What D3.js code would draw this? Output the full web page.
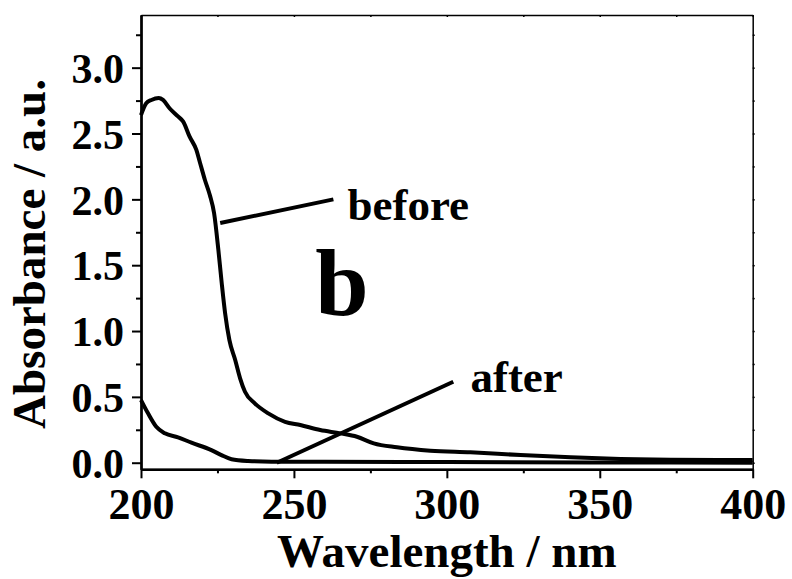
<!DOCTYPE html>
<html>
  <head>
    <meta charset="utf-8" />
    <title>Absorbance before / after</title>
    <script src="https://d3js.org/d3.v7.min.js"></script>
    <style>
      body {
        margin: 0;
        background: white;
      }
      text {
        font-family: "Liberation Serif", "Times New Roman", serif;
        font-weight: bold;
        fill: black;
      }
    </style>
  </head>
  <body>

    <svg id="chart"></svg>

    <script>

      // spectra (nm, a.u.)
      var beforeX = [200, 201.7, 203.4, 205.8, 207.2, 209.4, 212.1, 213.8, 215.9, 218.1, 219.2, 220.9, 222.5, 223.9, 225.3, 226.4, 227.5, 228.9, 230.8, 232.4, 234.0, 237.2, 241.6, 247.1, 252.1, 258.6, 265.2, 270.6, 276.1, 283.7, 294.6, 307.7, 324.1, 340.5, 356.8, 373.2, 400];
      var beforeY = [2.64, 2.73, 2.755, 2.77, 2.755, 2.69, 2.63, 2.59, 2.476, 2.375, 2.286, 2.147, 2.033, 1.894, 1.615, 1.362, 1.135, 0.932, 0.78, 0.641, 0.539, 0.451, 0.375, 0.311, 0.286, 0.248, 0.223, 0.197, 0.147, 0.117, 0.091, 0.079, 0.058, 0.041, 0.028, 0.022, 0.02];
      var afterX = [200, 202.3, 205, 207.8, 212.1, 216.5, 223, 226.3, 229.6, 235, 242.7, 260, 300, 350, 400];
      var afterY = [0.476, 0.375, 0.273, 0.223, 0.193, 0.152, 0.096, 0.058, 0.026, 0.013, 0.008, 0.008, 0.005, 0.002, 0.0];

      var xMajor = [200, 250, 300, 350, 400];
      var xMinor = [225, 275, 325, 375];
      var yMajor = [0, 0.5, 1.0, 1.5, 2.0, 2.5, 3.0];
      var yMinor = [0.25, 0.75, 1.25, 1.75, 2.25, 2.75, 3.25];

      // annotations: leader lines and labels (data coords)
      var beforeLeader = [[225.9, 1.82], [262.9, 2.0]];
      var afterLeader = [[244.4, 0.0], [302.1, 0.615]];
      var labels = [
        { text: "before", x: 267.5, y: 1.843, size: 45 },
        { text: "after", x: 307.7, y: 0.54, size: 45 },
        { text: "b", x: 257, y: 1.12, size: 96 }
      ];

      var width = 792;
      var height = 579;
      var margin = { top: 15, right: 39.3, bottom: 109.7, left: 141 };

      var svg = d3.select("#chart")
        .attr("width", width)
        .attr("height", height);

      var x = d3.scaleLinear()
        .domain([200, 400])
        .range([margin.left, width - margin.right]);

      var y = d3.scaleLinear()
        .domain([-0.05, 3.4])
        .range([height - margin.bottom, margin.top]);

      // frame: top and right (thin, tiny ticks)
      svg.append("g")
        .attr("transform", "translate(0," + y(3.4) + ")")
        .call(d3.axisBottom(x).tickValues(xMajor.concat(xMinor)).tickSize(2).tickSizeOuter(0).tickFormat(""))
        .call(function(g) { g.selectAll("path, line").attr("stroke-width", 1.5); });

      svg.append("g")
        .attr("transform", "translate(" + x(400) + ",0)")
        .call(d3.axisRight(y).tickValues(yMajor.concat(yMinor)).tickSize(2).tickSizeOuter(0).tickFormat(""))
        .call(function(g) { g.selectAll("path, line").attr("stroke-width", 1.5); });

      // left axis
      svg.append("g")
        .attr("transform", "translate(" + x(200) + ",0)")
        .call(d3.axisLeft(y).tickValues(yMinor).tickSize(5).tickSizeOuter(0).tickFormat(""))
        .call(function(g) { g.selectAll("path, line").attr("stroke-width", 2); });

      var yAxis = svg.append("g")
        .attr("transform", "translate(" + x(200) + ",0)")
        .call(d3.axisLeft(y).tickValues(yMajor).tickSize(9).tickPadding(8).tickSizeOuter(0).tickFormat(d3.format(".1f")));
      yAxis.selectAll("path").attr("stroke-width", 2.5);
      yAxis.selectAll("line").attr("stroke-width", 2);
      yAxis.selectAll("text")
        .attr("dy", "0.35em")
        .style("font-size", "42px")
        .style("font-family", "'Liberation Serif', serif")
        .style("font-weight", "bold");

      // bottom axis
      svg.append("g")
        .attr("transform", "translate(0," + y(-0.05) + ")")
        .call(d3.axisBottom(x).tickValues(xMinor).tickSize(4).tickSizeOuter(0).tickFormat(""))
        .call(function(g) { g.selectAll("path, line").attr("stroke-width", 2); });

      var xAxis = svg.append("g")
        .attr("transform", "translate(0," + y(-0.05) + ")")
        .call(d3.axisBottom(x).tickValues(xMajor).tickSize(9).tickPadding(9.5).tickSizeOuter(0).tickFormat(d3.format("d")));
      xAxis.selectAll("path").attr("stroke-width", 2.5);
      xAxis.selectAll("line").attr("stroke-width", 2);
      xAxis.selectAll("text")
        .style("font-size", "44px")
        .style("font-family", "'Liberation Serif', serif")
        .style("font-weight", "bold");

      // axis titles
      svg.append("text")
        .attr("transform", "translate(45,254) rotate(-90)")
        .attr("text-anchor", "middle")
        .style("font-size", "47px")
        .text("Absorbance / a.u.");

      svg.append("text")
        .attr("x", (x(200) + x(400)) / 2)
        .attr("y", 567)
        .attr("text-anchor", "middle")
        .style("font-size", "47px")
        .text("Wavelength / nm");

      // spectra
      var line = d3.line()
        .x(function(d) { return x(d[0]); })
        .y(function(d) { return y(d[1]); })
        .curve(d3.curveMonotoneX);

      var series = [
        d3.zip(beforeX, beforeY),
        d3.zip(afterX, afterY)
      ];

      svg.append("g").selectAll("path")
        .data(series)
        .enter().append("path")
        .attr("d", line)
        .attr("fill", "none")
        .attr("stroke", "black")
        .attr("stroke-width", 4)
        .attr("stroke-linejoin", "round");

      // leader lines
      var straight = d3.line()
        .x(function(d) { return x(d[0]); })
        .y(function(d) { return y(d[1]); });

      svg.append("g").selectAll("path")
        .data([beforeLeader, afterLeader])
        .enter().append("path")
        .attr("d", straight)
        .attr("fill", "none")
        .attr("stroke", "black")
        .attr("stroke-width", 4);

      svg.append("g").selectAll("text")
        .data(labels)
        .enter().append("text")
        .attr("x", function(d) { return x(d.x); })
        .attr("y", function(d) { return y(d.y); })
        .style("font-size", function(d) { return d.size + "px"; })
        .text(function(d) { return d.text; });

    </script>
  </body>
</html>
